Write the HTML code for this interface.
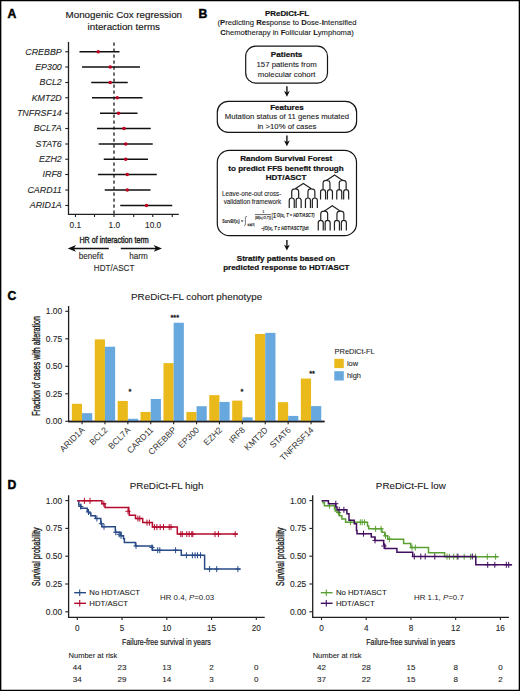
<!DOCTYPE html>
<html><head><meta charset="utf-8"><style>
html,body{margin:0;padding:0;background:#fff;width:520px;height:691px;overflow:hidden}
svg{display:block;font-family:"Liberation Sans", sans-serif}
</style></head><body>
<svg width="520" height="691" viewBox="0 0 520 691">
<path d="M0,0 H520 V691 H0 Z M1.35,1.3 V689.7 H518.7 V1.3 Z" fill="#000" fill-rule="evenodd"/>
<text x="7.5" y="18.3" font-size="12.2" text-anchor="start" font-weight="bold" font-style="normal" fill="#000" stroke="#000" stroke-width="0.45" >A</text>
<text x="123.8" y="17.6" font-size="9.8" text-anchor="middle" font-weight="normal" font-style="normal" fill="#151515" stroke="#151515" stroke-width="0.14" >Monogenic Cox regression</text>
<text x="123.8" y="29.7" font-size="9.8" text-anchor="middle" font-weight="normal" font-style="normal" fill="#151515" stroke="#151515" stroke-width="0.14" >interaction terms</text>
<path d="M68.5,42 V214.3 H178.8" fill="none" stroke="#231f20" stroke-width="1.3"/>
<line x1="65.3" y1="51.75" x2="68.5" y2="51.75" stroke="#231f20" stroke-width="1.1"/>
<text x="61.8" y="54.55" font-size="8.9" text-anchor="end" font-weight="normal" font-style="italic" fill="#262626" stroke="#262626" stroke-width="0.1" >CREBBP</text>
<line x1="65.3" y1="67" x2="68.5" y2="67" stroke="#231f20" stroke-width="1.1"/>
<text x="61.8" y="69.8" font-size="8.9" text-anchor="end" font-weight="normal" font-style="italic" fill="#262626" stroke="#262626" stroke-width="0.1" >EP300</text>
<line x1="65.3" y1="82.5" x2="68.5" y2="82.5" stroke="#231f20" stroke-width="1.1"/>
<text x="61.8" y="85.3" font-size="8.9" text-anchor="end" font-weight="normal" font-style="italic" fill="#262626" stroke="#262626" stroke-width="0.1" >BCL2</text>
<line x1="65.3" y1="97.75" x2="68.5" y2="97.75" stroke="#231f20" stroke-width="1.1"/>
<text x="61.8" y="100.55" font-size="8.9" text-anchor="end" font-weight="normal" font-style="italic" fill="#262626" stroke="#262626" stroke-width="0.1" >KMT2D</text>
<line x1="65.3" y1="113.25" x2="68.5" y2="113.25" stroke="#231f20" stroke-width="1.1"/>
<text x="61.8" y="116.05" font-size="8.9" text-anchor="end" font-weight="normal" font-style="italic" fill="#262626" stroke="#262626" stroke-width="0.1" >TNFRSF14</text>
<line x1="65.3" y1="128.5" x2="68.5" y2="128.5" stroke="#231f20" stroke-width="1.1"/>
<text x="61.8" y="131.3" font-size="8.9" text-anchor="end" font-weight="normal" font-style="italic" fill="#262626" stroke="#262626" stroke-width="0.1" >BCL7A</text>
<line x1="65.3" y1="144" x2="68.5" y2="144" stroke="#231f20" stroke-width="1.1"/>
<text x="61.8" y="146.8" font-size="8.9" text-anchor="end" font-weight="normal" font-style="italic" fill="#262626" stroke="#262626" stroke-width="0.1" >STAT6</text>
<line x1="65.3" y1="159.25" x2="68.5" y2="159.25" stroke="#231f20" stroke-width="1.1"/>
<text x="61.8" y="162.05" font-size="8.9" text-anchor="end" font-weight="normal" font-style="italic" fill="#262626" stroke="#262626" stroke-width="0.1" >EZH2</text>
<line x1="65.3" y1="174.5" x2="68.5" y2="174.5" stroke="#231f20" stroke-width="1.1"/>
<text x="61.8" y="177.3" font-size="8.9" text-anchor="end" font-weight="normal" font-style="italic" fill="#262626" stroke="#262626" stroke-width="0.1" >IRF8</text>
<line x1="65.3" y1="190" x2="68.5" y2="190" stroke="#231f20" stroke-width="1.1"/>
<text x="61.8" y="192.8" font-size="8.9" text-anchor="end" font-weight="normal" font-style="italic" fill="#262626" stroke="#262626" stroke-width="0.1" >CARD11</text>
<line x1="65.3" y1="205.5" x2="68.5" y2="205.5" stroke="#231f20" stroke-width="1.1"/>
<text x="61.8" y="208.3" font-size="8.9" text-anchor="end" font-weight="normal" font-style="italic" fill="#262626" stroke="#262626" stroke-width="0.1" >ARID1A</text>
<line x1="75.5" y1="214.3" x2="75.5" y2="217" stroke="#231f20" stroke-width="1.1"/>
<line x1="94.5" y1="214.3" x2="94.5" y2="217" stroke="#231f20" stroke-width="1.1"/>
<line x1="114" y1="214.3" x2="114" y2="217" stroke="#231f20" stroke-width="1.1"/>
<line x1="133.75" y1="214.3" x2="133.75" y2="217" stroke="#231f20" stroke-width="1.1"/>
<line x1="152.75" y1="214.3" x2="152.75" y2="217" stroke="#231f20" stroke-width="1.1"/>
<line x1="172.25" y1="214.3" x2="172.25" y2="217" stroke="#231f20" stroke-width="1.1"/>
<text x="75.3" y="228.3" font-size="8.3" text-anchor="middle" font-weight="normal" font-style="normal" fill="#262626" stroke="#262626" stroke-width="0.1" >0.1</text>
<text x="114.3" y="228.3" font-size="8.3" text-anchor="middle" font-weight="normal" font-style="normal" fill="#262626" stroke="#262626" stroke-width="0.1" >1.0</text>
<text x="153.1" y="228.3" font-size="8.3" text-anchor="middle" font-weight="normal" font-style="normal" fill="#262626" stroke="#262626" stroke-width="0.1" >10.0</text>
<line x1="114" y1="42.5" x2="114" y2="214" stroke="#111" stroke-width="1.25" stroke-dasharray="3.3,2.7"/>
<line x1="79.5" y1="51.75" x2="119.5" y2="51.75" stroke="#111" stroke-width="1.35"/>
<circle cx="98.25" cy="51.75" r="1.8" fill="#bd0020"/>
<line x1="82" y1="67" x2="140" y2="67" stroke="#111" stroke-width="1.35"/>
<circle cx="110.25" cy="67" r="1.8" fill="#bd0020"/>
<line x1="91.25" y1="82.5" x2="127.75" y2="82.5" stroke="#111" stroke-width="1.35"/>
<circle cx="110.25" cy="82.5" r="1.8" fill="#bd0020"/>
<line x1="92" y1="97.75" x2="142.5" y2="97.75" stroke="#111" stroke-width="1.35"/>
<circle cx="117.25" cy="97.75" r="1.8" fill="#bd0020"/>
<line x1="100" y1="113.25" x2="137.5" y2="113.25" stroke="#111" stroke-width="1.35"/>
<circle cx="118.5" cy="113.25" r="1.8" fill="#bd0020"/>
<line x1="97" y1="128.5" x2="150.75" y2="128.5" stroke="#111" stroke-width="1.35"/>
<circle cx="124" cy="128.5" r="1.8" fill="#bd0020"/>
<line x1="98.75" y1="144" x2="152.75" y2="144" stroke="#111" stroke-width="1.35"/>
<circle cx="125.75" cy="144" r="1.8" fill="#bd0020"/>
<line x1="103.75" y1="159.25" x2="148" y2="159.25" stroke="#111" stroke-width="1.35"/>
<circle cx="125.75" cy="159.25" r="1.8" fill="#bd0020"/>
<line x1="98" y1="174.5" x2="156.75" y2="174.5" stroke="#111" stroke-width="1.35"/>
<circle cx="127.25" cy="174.5" r="1.8" fill="#bd0020"/>
<line x1="104.75" y1="190" x2="150.5" y2="190" stroke="#111" stroke-width="1.35"/>
<circle cx="127.25" cy="190" r="1.8" fill="#bd0020"/>
<line x1="120.25" y1="205.5" x2="172.25" y2="205.5" stroke="#111" stroke-width="1.35"/>
<circle cx="146.5" cy="205.5" r="1.8" fill="#bd0020"/>
<text x="0" y="0" font-size="9.9" fill="#1a1a1a" stroke="#1a1a1a" stroke-width="0.4" font-weight="normal" transform="translate(114.1,242.6)" text-anchor="middle" textLength="69.4" lengthAdjust="spacingAndGlyphs">HR of interaction term</text>
<line x1="72" y1="248.4" x2="108.8" y2="248.4" stroke="#111" stroke-width="1.45"/>
<path d="M67.7,248.4 L76,245.1 L73.8,248.4 L76,251.7 Z" fill="#111"/>
<line x1="120.8" y1="248.4" x2="158" y2="248.4" stroke="#111" stroke-width="1.45"/>
<path d="M162,248.4 L153.7,245.1 L155.9,248.4 L153.7,251.7 Z" fill="#111"/>
<text x="91" y="259.2" font-size="8.15" text-anchor="middle" font-weight="normal" font-style="normal" fill="#262626" stroke="#262626" stroke-width="0.1" >benefit</text>
<text x="138.4" y="259.2" font-size="8.15" text-anchor="middle" font-weight="normal" font-style="normal" fill="#262626" stroke="#262626" stroke-width="0.1" >harm</text>
<text x="114.1" y="271.2" font-size="8.15" text-anchor="middle" font-weight="normal" font-style="normal" fill="#262626" stroke="#262626" stroke-width="0.1" >HDT/ASCT</text>
<text x="198.5" y="17.9" font-size="12.2" text-anchor="start" font-weight="bold" font-style="normal" fill="#000" stroke="#000" stroke-width="0.45" >B</text>
<text x="287" y="15.8" font-size="7.95" text-anchor="middle" font-weight="bold" font-style="normal" fill="#111" stroke="#111" stroke-width="0.22" >PReDiCt-FL</text>
<text x="287" y="25.4" font-size="7.65" text-anchor="middle" font-weight="normal" font-style="normal" fill="#1a1a1a" stroke="#1a1a1a" stroke-width="0.1" >(<tspan font-weight="bold">P</tspan>redicting <tspan font-weight="bold">Re</tspan>sponse to <tspan font-weight="bold">D</tspan>ose-<tspan font-weight="bold">I</tspan>ntensified</text>
<text x="287" y="35.0" font-size="7.6" text-anchor="middle" font-weight="normal" font-style="normal" fill="#1a1a1a" stroke="#1a1a1a" stroke-width="0.1" ><tspan font-weight="bold">C</tspan>hemo<tspan font-weight="bold">t</tspan>herapy in <tspan font-weight="bold">F</tspan>ollicular <tspan font-weight="bold">L</tspan>ymphoma)</text>
<rect x="245.7" y="46.2" width="81.8" height="36.9" rx="10" ry="10" fill="none" stroke="#151515" stroke-width="1.2"/>
<text x="286.6" y="57.4" font-size="8.1" text-anchor="middle" font-weight="bold" font-style="normal" fill="#111" stroke="#111" stroke-width="0.22" >Patients</text>
<text x="286.6" y="67.2" font-size="7.8" text-anchor="middle" font-weight="normal" font-style="normal" fill="#1a1a1a" stroke="#1a1a1a" stroke-width="0.1" >157 patients from</text>
<text x="286.6" y="77.2" font-size="7.8" text-anchor="middle" font-weight="normal" font-style="normal" fill="#1a1a1a" stroke="#1a1a1a" stroke-width="0.1" >molecular cohort</text>
<line x1="286.9" y1="86.2" x2="286.9" y2="92.8" stroke="#111" stroke-width="1.4"/>
<path d="M286.9,96.8 L284.0,91.0 L286.9,92.5 L289.79999999999995,91.0 Z" fill="#111"/>
<rect x="217.3" y="101.3" width="139.3" height="31.1" rx="11" ry="11" fill="none" stroke="#151515" stroke-width="1.2"/>
<text x="286.9" y="109.5" font-size="8.05" text-anchor="middle" font-weight="bold" font-style="normal" fill="#111" stroke="#111" stroke-width="0.22" >Features</text>
<text x="286.9" y="119.2" font-size="7.72" text-anchor="middle" font-weight="normal" font-style="normal" fill="#1a1a1a" stroke="#1a1a1a" stroke-width="0.1" >Mutation status of 11 genes mutated</text>
<text x="286.9" y="128.7" font-size="7.72" text-anchor="middle" font-weight="normal" font-style="normal" fill="#1a1a1a" stroke="#1a1a1a" stroke-width="0.1" >in &gt;10% of cases</text>
<line x1="286.9" y1="135.6" x2="286.9" y2="142.2" stroke="#111" stroke-width="1.4"/>
<path d="M286.9,146.2 L284.0,140.39999999999998 L286.9,141.89999999999998 L289.79999999999995,140.39999999999998 Z" fill="#111"/>
<rect x="217.3" y="150.4" width="139.2" height="85.3" rx="12" ry="12" fill="none" stroke="#151515" stroke-width="1.2"/>
<text x="286.2" y="160.8" font-size="8.0" text-anchor="middle" font-weight="bold" font-style="normal" fill="#111" stroke="#111" stroke-width="0.22" >Random Survival Forest</text>
<text x="286.0" y="170.6" font-size="8.05" text-anchor="middle" font-weight="bold" font-style="normal" fill="#111" stroke="#111" stroke-width="0.22" >to predict FFS benefit through</text>
<text x="286.0" y="179.9" font-size="8.05" text-anchor="middle" font-weight="bold" font-style="normal" fill="#111" stroke="#111" stroke-width="0.22" >HDT/ASCT</text>
<text x="251.7" y="195.7" font-size="6.27" text-anchor="middle" font-weight="normal" font-style="normal" fill="#262626" stroke="#262626" stroke-width="0.1" >Leave-one-out cross-</text>
<text x="252.4" y="203.7" font-size="6.27" text-anchor="middle" font-weight="normal" font-style="normal" fill="#262626" stroke="#262626" stroke-width="0.1" >validation framework</text>
<text x="222.2" y="222.9" font-size="5.2" font-weight="bold" font-style="normal" fill="#222" stroke="#222" stroke-width="0.08" textLength="20.9" lengthAdjust="spacingAndGlyphs">SurvBf(x<tspan font-size="3">j</tspan>) =</text>
<path d="M246.8,216.6 Q245.9,215.6 245.4,217.2 L245.4,224.6 Q245.1,226 244.2,225.2" fill="none" stroke="#222" stroke-width="0.6"/>
<text x="247.5" y="225.7" font-size="2.6" font-weight="bold" font-style="normal" fill="#222" stroke="#222" stroke-width="0.08" textLength="7.2" lengthAdjust="spacingAndGlyphs">t∈ℝ(O,R)</text>
<text x="262.6" y="213.0" font-size="3.0" font-weight="bold" font-style="normal" fill="#222" stroke="#222" stroke-width="0.08" textLength="1.6" lengthAdjust="spacingAndGlyphs">1</text>
<line x1="254.8" y1="214.6" x2="271" y2="214.6" stroke="#555" stroke-width="0.9"/>
<text x="255" y="218.6" font-size="4.0" font-weight="bold" font-style="italic" fill="#222" stroke="#222" stroke-width="0.08" textLength="16" lengthAdjust="spacingAndGlyphs">|M(x<tspan font-size="2.6">j</tspan>,O,T)|</text>
<text x="271.6" y="217.6" font-size="7" font-weight="normal" font-style="normal" fill="#222" stroke="#222" stroke-width="0.08" textLength="1.5" lengthAdjust="spacingAndGlyphs">[</text>
<text x="273.2" y="217.0" font-size="5.4" font-weight="bold" font-style="normal" fill="#222" stroke="#222" stroke-width="0.08" textLength="3.2" lengthAdjust="spacingAndGlyphs">∑</text>
<text x="276.7" y="216.9" font-size="5.0" font-weight="bold" font-style="italic" fill="#222" stroke="#222" stroke-width="0.08" textLength="38" lengthAdjust="spacingAndGlyphs">O(x<tspan font-size="3">j</tspan>, T = HDT/ASCT)</text>
<text x="260.9" y="230.3" font-size="5.0" font-weight="bold" font-style="italic" fill="#222" stroke="#222" stroke-width="0.08" textLength="47.6" lengthAdjust="spacingAndGlyphs">−∫O(x<tspan font-size="3">j</tspan>, T ≠ HDT/ASCT)]dt</text>
<path d="M326.5,180.4 L334.6,175 L342.7,180.4 M323.05,189.6 V183.2 Q323.05,180.4 326.5,180.4 Q329.95,180.4 329.95,183.2 V189.6 M320.55,199.6 V192 Q320.55,189.6 323.05,189.6 Q325.55,189.6 325.55,192 V199.6 M327.45,199.6 V192 Q327.45,189.6 329.95,189.6 Q332.45,189.6 332.45,192 V199.6 M339.25,189.6 V183.2 Q339.25,180.4 342.7,180.4 Q346.15,180.4 346.15,183.2 V189.6 M336.75,199.6 V192 Q336.75,189.6 339.25,189.6 Q341.75,189.6 341.75,192 V199.6 M343.65,199.6 V192 Q343.65,189.6 346.15,189.6 Q348.65,189.6 348.65,192 V199.6" fill="none" stroke="#222" stroke-width="1.2"/>
<path d="M295.2,188.8 L303.3,183.4 L311.4,188.8 M291.75,198.0 V191.6 Q291.75,188.8 295.2,188.8 Q298.65,188.8 298.65,191.6 V198.0 M289.25,208.0 V200.4 Q289.25,198.0 291.75,198.0 Q294.25,198.0 294.25,200.4 V208.0 M296.15,208.0 V200.4 Q296.15,198.0 298.65,198.0 Q301.15,198.0 301.15,200.4 V208.0 M307.95,198.0 V191.6 Q307.95,188.8 311.4,188.8 Q314.85,188.8 314.85,191.6 V198.0 M305.45,208.0 V200.4 Q305.45,198.0 307.95,198.0 Q310.45,198.0 310.45,200.4 V208.0 M312.35,208.0 V200.4 Q312.35,198.0 314.85,198.0 Q317.35,198.0 317.35,200.4 V208.0" fill="none" stroke="#222" stroke-width="1.2"/>
<path d="M324.2,211.2 L332.3,205.8 L340.4,211.2 M320.75,220.4 V214.0 Q320.75,211.2 324.2,211.2 Q327.65,211.2 327.65,214.0 V220.4 M318.25,230.4 V222.8 Q318.25,220.4 320.75,220.4 Q323.25,220.4 323.25,222.8 V230.4 M325.15,230.4 V222.8 Q325.15,220.4 327.65,220.4 Q330.15,220.4 330.15,222.8 V230.4 M336.95,220.4 V214.0 Q336.95,211.2 340.4,211.2 Q343.85,211.2 343.85,214.0 V220.4 M334.45,230.4 V222.8 Q334.45,220.4 336.95,220.4 Q339.45,220.4 339.45,222.8 V230.4 M341.35,230.4 V222.8 Q341.35,220.4 343.85,220.4 Q346.35,220.4 346.35,222.8 V230.4" fill="none" stroke="#222" stroke-width="1.2"/>
<line x1="286.9" y1="239.9" x2="286.9" y2="246.6" stroke="#111" stroke-width="1.4"/>
<path d="M286.9,250.6 L284.0,244.79999999999998 L286.9,246.29999999999998 L289.79999999999995,244.79999999999998 Z" fill="#111"/>
<text x="286.0" y="260.6" font-size="8.05" text-anchor="middle" font-weight="bold" font-style="normal" fill="#111" stroke="#111" stroke-width="0.22" >Stratify patients based on</text>
<text x="286.3" y="270.1" font-size="8.0" text-anchor="middle" font-weight="bold" font-style="normal" fill="#111" stroke="#111" stroke-width="0.22" >predicted response to HDT/ASCT</text>
<text x="7.5" y="300.4" font-size="12.2" text-anchor="start" font-weight="bold" font-style="normal" fill="#000" stroke="#000" stroke-width="0.45" >C</text>
<text x="196.6" y="300" font-size="9.82" text-anchor="middle" font-weight="normal" font-style="normal" fill="#1a1a1a" stroke="#1a1a1a" stroke-width="0.1" >PReDiCt-FL cohort phenotype</text>
<path d="M68.6,306 V421.5 H324.5" fill="none" stroke="#231f20" stroke-width="1.3"/>
<line x1="65.3" y1="421.3" x2="68.6" y2="421.3" stroke="#231f20" stroke-width="1.1"/>
<text x="62.2" y="424.3" font-size="8.45" text-anchor="end" font-weight="normal" font-style="normal" fill="#262626" stroke="#262626" stroke-width="0.1" >0.00</text>
<line x1="65.3" y1="393.8" x2="68.6" y2="393.8" stroke="#231f20" stroke-width="1.1"/>
<text x="62.2" y="396.8" font-size="8.45" text-anchor="end" font-weight="normal" font-style="normal" fill="#262626" stroke="#262626" stroke-width="0.1" >0.25</text>
<line x1="65.3" y1="366.3" x2="68.6" y2="366.3" stroke="#231f20" stroke-width="1.1"/>
<text x="62.2" y="369.3" font-size="8.45" text-anchor="end" font-weight="normal" font-style="normal" fill="#262626" stroke="#262626" stroke-width="0.1" >0.50</text>
<line x1="65.3" y1="338.8" x2="68.6" y2="338.8" stroke="#231f20" stroke-width="1.1"/>
<text x="62.2" y="341.8" font-size="8.45" text-anchor="end" font-weight="normal" font-style="normal" fill="#262626" stroke="#262626" stroke-width="0.1" >0.75</text>
<line x1="65.3" y1="311.3" x2="68.6" y2="311.3" stroke="#231f20" stroke-width="1.1"/>
<text x="62.2" y="314.3" font-size="8.45" text-anchor="end" font-weight="normal" font-style="normal" fill="#262626" stroke="#262626" stroke-width="0.1" >1.00</text>
<text x="0" y="0" font-size="10.4" fill="#1a1a1a" stroke="#1a1a1a" stroke-width="0.35" font-weight="normal" transform="translate(39.5,365.9) rotate(-90)" text-anchor="middle" textLength="99.7" lengthAdjust="spacingAndGlyphs">Fraction of cases with alteration</text>
<rect x="71.85" y="403.81" width="10.2" height="17.49" fill="#eaba1c"/>
<rect x="82.05" y="413.16" width="10.2" height="8.14" fill="#67a8de"/>
<line x1="82.05" y1="421.5" x2="82.05" y2="424.3" stroke="#231f20" stroke-width="1.1"/>
<text x="0" y="0" font-size="8.6" fill="#333" text-anchor="end" transform="translate(85.25,430.50) rotate(-45)">ARID1A</text>
<rect x="94.75" y="339.35" width="10.2" height="81.95" fill="#eaba1c"/>
<rect x="104.95" y="346.72" width="10.2" height="74.58" fill="#67a8de"/>
<line x1="104.95" y1="421.5" x2="104.95" y2="424.3" stroke="#231f20" stroke-width="1.1"/>
<text x="0" y="0" font-size="8.6" fill="#333" text-anchor="end" transform="translate(108.15,430.50) rotate(-45)">BCL2</text>
<rect x="117.65" y="400.95" width="10.2" height="20.35" fill="#eaba1c"/>
<rect x="127.85" y="418.77" width="10.2" height="2.53" fill="#67a8de"/>
<line x1="127.85" y1="421.5" x2="127.85" y2="424.3" stroke="#231f20" stroke-width="1.1"/>
<text x="0" y="0" font-size="8.6" fill="#333" text-anchor="end" transform="translate(131.05,430.50) rotate(-45)">BCL7A</text>
<rect x="140.55" y="411.95" width="10.2" height="9.35" fill="#eaba1c"/>
<rect x="150.75" y="398.97" width="10.2" height="22.33" fill="#67a8de"/>
<line x1="150.75" y1="421.5" x2="150.75" y2="424.3" stroke="#231f20" stroke-width="1.1"/>
<text x="0" y="0" font-size="8.6" fill="#333" text-anchor="end" transform="translate(153.95,430.50) rotate(-45)">CARD11</text>
<rect x="163.45" y="363.11" width="10.2" height="58.19" fill="#eaba1c"/>
<rect x="173.65" y="322.74" width="10.2" height="98.56" fill="#67a8de"/>
<line x1="173.65" y1="421.5" x2="173.65" y2="424.3" stroke="#231f20" stroke-width="1.1"/>
<text x="0" y="0" font-size="8.6" fill="#333" text-anchor="end" transform="translate(176.85,430.50) rotate(-45)">CREBBP</text>
<rect x="186.35" y="411.95" width="10.2" height="9.35" fill="#eaba1c"/>
<rect x="196.55" y="406.23" width="10.2" height="15.07" fill="#67a8de"/>
<line x1="196.55" y1="421.5" x2="196.55" y2="424.3" stroke="#231f20" stroke-width="1.1"/>
<text x="0" y="0" font-size="8.6" fill="#333" text-anchor="end" transform="translate(199.75,430.50) rotate(-45)">EP300</text>
<rect x="209.25" y="395.12" width="10.2" height="26.18" fill="#eaba1c"/>
<rect x="219.45" y="401.94" width="10.2" height="19.36" fill="#67a8de"/>
<line x1="219.45" y1="421.5" x2="219.45" y2="424.3" stroke="#231f20" stroke-width="1.1"/>
<text x="0" y="0" font-size="8.6" fill="#333" text-anchor="end" transform="translate(222.65,430.50) rotate(-45)">EZH2</text>
<rect x="232.15" y="400.62" width="10.2" height="20.68" fill="#eaba1c"/>
<rect x="242.35" y="417.34" width="10.2" height="3.96" fill="#67a8de"/>
<line x1="242.35" y1="421.5" x2="242.35" y2="424.3" stroke="#231f20" stroke-width="1.1"/>
<text x="0" y="0" font-size="8.6" fill="#333" text-anchor="end" transform="translate(245.55,430.50) rotate(-45)">IRF8</text>
<rect x="255.05" y="333.96" width="10.2" height="87.34" fill="#eaba1c"/>
<rect x="265.25" y="332.86" width="10.2" height="88.44" fill="#67a8de"/>
<line x1="265.25" y1="421.5" x2="265.25" y2="424.3" stroke="#231f20" stroke-width="1.1"/>
<text x="0" y="0" font-size="8.6" fill="#333" text-anchor="end" transform="translate(268.45,430.50) rotate(-45)">KMT2D</text>
<rect x="277.95" y="402.16" width="10.2" height="19.14" fill="#eaba1c"/>
<rect x="288.15" y="415.91" width="10.2" height="5.39" fill="#67a8de"/>
<line x1="288.15" y1="421.5" x2="288.15" y2="424.3" stroke="#231f20" stroke-width="1.1"/>
<text x="0" y="0" font-size="8.6" fill="#333" text-anchor="end" transform="translate(291.35,430.50) rotate(-45)">STAT6</text>
<rect x="300.85" y="378.51" width="10.2" height="42.79" fill="#eaba1c"/>
<rect x="311.05" y="406.12" width="10.2" height="15.18" fill="#67a8de"/>
<line x1="311.05" y1="421.5" x2="311.05" y2="424.3" stroke="#231f20" stroke-width="1.1"/>
<text x="0" y="0" font-size="8.6" fill="#333" text-anchor="end" transform="translate(314.25,430.50) rotate(-45)">TNFRSF14</text>
<path d="M68,421.5 H324.5" fill="none" stroke="#231f20" stroke-width="1.3"/>
<text x="130" y="393.8" font-size="7.4" text-anchor="middle" font-weight="normal" font-style="normal" fill="#111" stroke="#111" stroke-width="0.35" >*</text>
<text x="241.9" y="393.8" font-size="7.4" text-anchor="middle" font-weight="normal" font-style="normal" fill="#111" stroke="#111" stroke-width="0.35" >*</text>
<text x="174.8" y="320.3" font-size="7.4" text-anchor="middle" font-weight="normal" font-style="normal" fill="#111" stroke="#111" stroke-width="0.35" >***</text>
<text x="312.1" y="376.2" font-size="7.4" text-anchor="middle" font-weight="normal" font-style="normal" fill="#111" stroke="#111" stroke-width="0.35" >**</text>
<text x="334.6" y="354.2" font-size="7.45" text-anchor="start" font-weight="normal" font-style="normal" fill="#262626" stroke="#262626" stroke-width="0.1" >PReDiCt-FL</text>
<rect x="334.3" y="358.8" width="9.5" height="9.3" fill="#eaba1c"/>
<rect x="334.3" y="371.2" width="9.5" height="9.3" fill="#67a8de"/>
<text x="346.9" y="365.8" font-size="7.45" text-anchor="start" font-weight="normal" font-style="normal" fill="#262626" stroke="#262626" stroke-width="0.1" >low</text>
<text x="346.9" y="377.8" font-size="7.45" text-anchor="start" font-weight="normal" font-style="normal" fill="#262626" stroke="#262626" stroke-width="0.1" >high</text>
<text x="7.5" y="489.4" font-size="12.2" text-anchor="start" font-weight="bold" font-style="normal" fill="#000" stroke="#000" stroke-width="0.45" >D</text>
<path d="M68.6,495.2 V617.3 H264.7" fill="none" stroke="#231f20" stroke-width="1.3"/>
<line x1="65.3" y1="611.8" x2="68.6" y2="611.8" stroke="#231f20" stroke-width="1.1"/>
<text x="62.199999999999996" y="614.8" font-size="8.45" text-anchor="end" font-weight="normal" font-style="normal" fill="#262626" stroke="#262626" stroke-width="0.1" >0.00</text>
<line x1="65.3" y1="584.0" x2="68.6" y2="584.0" stroke="#231f20" stroke-width="1.1"/>
<text x="62.199999999999996" y="587.0" font-size="8.45" text-anchor="end" font-weight="normal" font-style="normal" fill="#262626" stroke="#262626" stroke-width="0.1" >0.25</text>
<line x1="65.3" y1="556.2" x2="68.6" y2="556.2" stroke="#231f20" stroke-width="1.1"/>
<text x="62.199999999999996" y="559.2" font-size="8.45" text-anchor="end" font-weight="normal" font-style="normal" fill="#262626" stroke="#262626" stroke-width="0.1" >0.50</text>
<line x1="65.3" y1="528.4" x2="68.6" y2="528.4" stroke="#231f20" stroke-width="1.1"/>
<text x="62.199999999999996" y="531.4" font-size="8.45" text-anchor="end" font-weight="normal" font-style="normal" fill="#262626" stroke="#262626" stroke-width="0.1" >0.75</text>
<line x1="65.3" y1="500.6" x2="68.6" y2="500.6" stroke="#231f20" stroke-width="1.1"/>
<text x="62.199999999999996" y="503.6" font-size="8.45" text-anchor="end" font-weight="normal" font-style="normal" fill="#262626" stroke="#262626" stroke-width="0.1" >1.00</text>
<line x1="77.3" y1="617.3" x2="77.3" y2="620" stroke="#231f20" stroke-width="1.1"/>
<text x="77.3" y="631" font-size="8.2" text-anchor="middle" font-weight="normal" font-style="normal" fill="#262626" stroke="#262626" stroke-width="0.1" >0</text>
<line x1="122.05" y1="617.3" x2="122.05" y2="620" stroke="#231f20" stroke-width="1.1"/>
<text x="122.05" y="631" font-size="8.2" text-anchor="middle" font-weight="normal" font-style="normal" fill="#262626" stroke="#262626" stroke-width="0.1" >5</text>
<line x1="166.8" y1="617.3" x2="166.8" y2="620" stroke="#231f20" stroke-width="1.1"/>
<text x="166.8" y="631" font-size="8.2" text-anchor="middle" font-weight="normal" font-style="normal" fill="#262626" stroke="#262626" stroke-width="0.1" >10</text>
<line x1="211.55" y1="617.3" x2="211.55" y2="620" stroke="#231f20" stroke-width="1.1"/>
<text x="211.55" y="631" font-size="8.2" text-anchor="middle" font-weight="normal" font-style="normal" fill="#262626" stroke="#262626" stroke-width="0.1" >15</text>
<line x1="256.3" y1="617.3" x2="256.3" y2="620" stroke="#231f20" stroke-width="1.1"/>
<text x="256.3" y="631" font-size="8.2" text-anchor="middle" font-weight="normal" font-style="normal" fill="#262626" stroke="#262626" stroke-width="0.1" >20</text>
<text x="0" y="0" font-size="10.2" fill="#1a1a1a" stroke="#1a1a1a" stroke-width="0.35" font-weight="normal" transform="translate(39.99999999999999,556.8) rotate(-90)" text-anchor="middle" textLength="58.4" lengthAdjust="spacingAndGlyphs">Survival probability</text>
<text x="166.64999999999998" y="489.4" font-size="9.8" text-anchor="middle" font-weight="normal" font-style="normal" fill="#1a1a1a" stroke="#1a1a1a" stroke-width="0.1" >PReDiCt-FL high</text>
<text x="0" y="0" font-size="9.5" fill="#1a1a1a" stroke="#1a1a1a" stroke-width="0.22" font-weight="normal" transform="translate(166.45,645.1)" text-anchor="middle" textLength="88.8" lengthAdjust="spacingAndGlyphs">Failure-free survival in years</text>
<line x1="74.2" y1="592.7" x2="86.0" y2="592.7" stroke="#284b87" stroke-width="1.4"/>
<line x1="79.7" y1="589.4000000000001" x2="79.7" y2="596.0" stroke="#284b87" stroke-width="1.1"/>
<text x="89.3" y="595.3000000000001" font-size="7.75" text-anchor="start" font-weight="normal" font-style="normal" fill="#1a1a1a" stroke="#1a1a1a" stroke-width="0.1" >No HDT/ASCT</text>
<line x1="74.2" y1="603.3000000000001" x2="86.0" y2="603.3000000000001" stroke="#b40a2d" stroke-width="1.4"/>
<line x1="79.7" y1="600.0000000000001" x2="79.7" y2="606.6" stroke="#b40a2d" stroke-width="1.1"/>
<text x="89.3" y="605.9000000000001" font-size="7.75" text-anchor="start" font-weight="normal" font-style="normal" fill="#1a1a1a" stroke="#1a1a1a" stroke-width="0.1" >HDT/ASCT</text>
<text x="160" y="600" font-size="7.9" fill="#222">HR 0.4, <tspan font-style="italic">P</tspan>=0.03</text>
<text x="68.6" y="657.7" font-size="7.5" text-anchor="start" font-weight="normal" font-style="normal" fill="#262626" stroke="#262626" stroke-width="0.1" >Number at risk</text>
<text x="77.3" y="669.6" font-size="8.0" text-anchor="middle" font-weight="normal" font-style="normal" fill="#262626" stroke="#262626" stroke-width="0.1" >44</text>
<text x="77.3" y="681.6" font-size="8.0" text-anchor="middle" font-weight="normal" font-style="normal" fill="#262626" stroke="#262626" stroke-width="0.1" >34</text>
<text x="122.05" y="669.6" font-size="8.0" text-anchor="middle" font-weight="normal" font-style="normal" fill="#262626" stroke="#262626" stroke-width="0.1" >23</text>
<text x="122.05" y="681.6" font-size="8.0" text-anchor="middle" font-weight="normal" font-style="normal" fill="#262626" stroke="#262626" stroke-width="0.1" >29</text>
<text x="166.8" y="669.6" font-size="8.0" text-anchor="middle" font-weight="normal" font-style="normal" fill="#262626" stroke="#262626" stroke-width="0.1" >13</text>
<text x="166.8" y="681.6" font-size="8.0" text-anchor="middle" font-weight="normal" font-style="normal" fill="#262626" stroke="#262626" stroke-width="0.1" >14</text>
<text x="211.55" y="669.6" font-size="8.0" text-anchor="middle" font-weight="normal" font-style="normal" fill="#262626" stroke="#262626" stroke-width="0.1" >2</text>
<text x="211.55" y="681.6" font-size="8.0" text-anchor="middle" font-weight="normal" font-style="normal" fill="#262626" stroke="#262626" stroke-width="0.1" >3</text>
<text x="256.3" y="669.6" font-size="8.0" text-anchor="middle" font-weight="normal" font-style="normal" fill="#262626" stroke="#262626" stroke-width="0.1" >0</text>
<text x="256.3" y="681.6" font-size="8.0" text-anchor="middle" font-weight="normal" font-style="normal" fill="#262626" stroke="#262626" stroke-width="0.1" >0</text>
<path d="M312.7,495.2 V617.3 H508.9" fill="none" stroke="#231f20" stroke-width="1.3"/>
<line x1="309.4" y1="611.8" x2="312.7" y2="611.8" stroke="#231f20" stroke-width="1.1"/>
<text x="306.3" y="614.8" font-size="8.45" text-anchor="end" font-weight="normal" font-style="normal" fill="#262626" stroke="#262626" stroke-width="0.1" >0.00</text>
<line x1="309.4" y1="584.0" x2="312.7" y2="584.0" stroke="#231f20" stroke-width="1.1"/>
<text x="306.3" y="587.0" font-size="8.45" text-anchor="end" font-weight="normal" font-style="normal" fill="#262626" stroke="#262626" stroke-width="0.1" >0.25</text>
<line x1="309.4" y1="556.2" x2="312.7" y2="556.2" stroke="#231f20" stroke-width="1.1"/>
<text x="306.3" y="559.2" font-size="8.45" text-anchor="end" font-weight="normal" font-style="normal" fill="#262626" stroke="#262626" stroke-width="0.1" >0.50</text>
<line x1="309.4" y1="528.4" x2="312.7" y2="528.4" stroke="#231f20" stroke-width="1.1"/>
<text x="306.3" y="531.4" font-size="8.45" text-anchor="end" font-weight="normal" font-style="normal" fill="#262626" stroke="#262626" stroke-width="0.1" >0.75</text>
<line x1="309.4" y1="500.6" x2="312.7" y2="500.6" stroke="#231f20" stroke-width="1.1"/>
<text x="306.3" y="503.6" font-size="8.45" text-anchor="end" font-weight="normal" font-style="normal" fill="#262626" stroke="#262626" stroke-width="0.1" >1.00</text>
<line x1="321.5" y1="617.3" x2="321.5" y2="620" stroke="#231f20" stroke-width="1.1"/>
<text x="321.5" y="631" font-size="8.2" text-anchor="middle" font-weight="normal" font-style="normal" fill="#262626" stroke="#262626" stroke-width="0.1" >0</text>
<line x1="366.22" y1="617.3" x2="366.22" y2="620" stroke="#231f20" stroke-width="1.1"/>
<text x="366.22" y="631" font-size="8.2" text-anchor="middle" font-weight="normal" font-style="normal" fill="#262626" stroke="#262626" stroke-width="0.1" >4</text>
<line x1="410.94" y1="617.3" x2="410.94" y2="620" stroke="#231f20" stroke-width="1.1"/>
<text x="410.94" y="631" font-size="8.2" text-anchor="middle" font-weight="normal" font-style="normal" fill="#262626" stroke="#262626" stroke-width="0.1" >8</text>
<line x1="455.66" y1="617.3" x2="455.66" y2="620" stroke="#231f20" stroke-width="1.1"/>
<text x="455.66" y="631" font-size="8.2" text-anchor="middle" font-weight="normal" font-style="normal" fill="#262626" stroke="#262626" stroke-width="0.1" >12</text>
<line x1="500.38" y1="617.3" x2="500.38" y2="620" stroke="#231f20" stroke-width="1.1"/>
<text x="500.38" y="631" font-size="8.2" text-anchor="middle" font-weight="normal" font-style="normal" fill="#262626" stroke="#262626" stroke-width="0.1" >16</text>
<text x="0" y="0" font-size="10.2" fill="#1a1a1a" stroke="#1a1a1a" stroke-width="0.35" font-weight="normal" transform="translate(284.09999999999997,556.8) rotate(-90)" text-anchor="middle" textLength="58.4" lengthAdjust="spacingAndGlyphs">Survival probability</text>
<text x="410.79999999999995" y="489.4" font-size="9.8" text-anchor="middle" font-weight="normal" font-style="normal" fill="#1a1a1a" stroke="#1a1a1a" stroke-width="0.1" >PReDiCt-FL low</text>
<text x="0" y="0" font-size="9.5" fill="#1a1a1a" stroke="#1a1a1a" stroke-width="0.22" font-weight="normal" transform="translate(410.6,645.1)" text-anchor="middle" textLength="88.8" lengthAdjust="spacingAndGlyphs">Failure-free survival in years</text>
<line x1="320.8" y1="592.7" x2="332.6" y2="592.7" stroke="#5aa032" stroke-width="1.4"/>
<line x1="326.3" y1="589.4000000000001" x2="326.3" y2="596.0" stroke="#5aa032" stroke-width="1.1"/>
<text x="335.90000000000003" y="595.3000000000001" font-size="7.75" text-anchor="start" font-weight="normal" font-style="normal" fill="#1a1a1a" stroke="#1a1a1a" stroke-width="0.1" >No HDT/ASCT</text>
<line x1="320.8" y1="603.3000000000001" x2="332.6" y2="603.3000000000001" stroke="#420f60" stroke-width="1.4"/>
<line x1="326.3" y1="600.0000000000001" x2="326.3" y2="606.6" stroke="#420f60" stroke-width="1.1"/>
<text x="335.90000000000003" y="605.9000000000001" font-size="7.75" text-anchor="start" font-weight="normal" font-style="normal" fill="#1a1a1a" stroke="#1a1a1a" stroke-width="0.1" >HDT/ASCT</text>
<text x="414" y="600" font-size="7.9" fill="#222">HR 1.1, <tspan font-style="italic">P</tspan>=0.7</text>
<text x="312.7" y="657.7" font-size="7.5" text-anchor="start" font-weight="normal" font-style="normal" fill="#262626" stroke="#262626" stroke-width="0.1" >Number at risk</text>
<text x="321.5" y="669.6" font-size="8.0" text-anchor="middle" font-weight="normal" font-style="normal" fill="#262626" stroke="#262626" stroke-width="0.1" >42</text>
<text x="321.5" y="681.6" font-size="8.0" text-anchor="middle" font-weight="normal" font-style="normal" fill="#262626" stroke="#262626" stroke-width="0.1" >37</text>
<text x="366.22" y="669.6" font-size="8.0" text-anchor="middle" font-weight="normal" font-style="normal" fill="#262626" stroke="#262626" stroke-width="0.1" >28</text>
<text x="366.22" y="681.6" font-size="8.0" text-anchor="middle" font-weight="normal" font-style="normal" fill="#262626" stroke="#262626" stroke-width="0.1" >22</text>
<text x="410.94" y="669.6" font-size="8.0" text-anchor="middle" font-weight="normal" font-style="normal" fill="#262626" stroke="#262626" stroke-width="0.1" >15</text>
<text x="410.94" y="681.6" font-size="8.0" text-anchor="middle" font-weight="normal" font-style="normal" fill="#262626" stroke="#262626" stroke-width="0.1" >15</text>
<text x="455.66" y="669.6" font-size="8.0" text-anchor="middle" font-weight="normal" font-style="normal" fill="#262626" stroke="#262626" stroke-width="0.1" >8</text>
<text x="455.66" y="681.6" font-size="8.0" text-anchor="middle" font-weight="normal" font-style="normal" fill="#262626" stroke="#262626" stroke-width="0.1" >8</text>
<text x="500.38" y="669.6" font-size="8.0" text-anchor="middle" font-weight="normal" font-style="normal" fill="#262626" stroke="#262626" stroke-width="0.1" >0</text>
<text x="500.38" y="681.6" font-size="8.0" text-anchor="middle" font-weight="normal" font-style="normal" fill="#262626" stroke="#262626" stroke-width="0.1" >2</text>
<path d="M77.3,500.8 H78.8 V505 H80.8 V508.3 H87.3 V511.2 H88.5 V513 H90.8 V515.8 H95.4 V518.5 H100.8 V523.7 H101.9 V526.8 H115.3 V532.3 H121 V535.8 H123.5 V538.8 H124.4 V542.5 H135.5 V545.9 H152.5 V550.2 H181.3 V555.3 H204.6 V569.1 H240.6" fill="none" stroke="#284b87" stroke-width="1.5" stroke-linejoin="miter"/>
<path d="M80.8,503.5 V509.5 M78.2,506.5 H83.39999999999999 M88.5,509 V515 M85.9,512 H91.1 M96.9,515.5 V521.5 M94.30000000000001,518.5 H99.5 M101.5,520.7 V526.7 M98.9,523.7 H104.1 M104,523.8 V529.8 M101.4,526.8 H106.6 M115.8,529.3 V535.3 M113.2,532.3 H118.39999999999999 M119.2,531.3 V537.3 M116.60000000000001,534.3 H121.8 M121,532.8 V538.8 M118.4,535.8 H123.6 M136,542.9 V548.9 M133.4,545.9 H138.6 M152,544.5 V550.5 M149.4,547.5 H154.6 M157.7,547.2 V553.2 M155.1,550.2 H160.29999999999998 M159.8,547.2 V553.2 M157.20000000000002,550.2 H162.4 M175.6,547.2 V553.2 M173.0,550.2 H178.2 M186.4,552.3 V558.3 M183.8,555.3 H189.0 M192.4,552.3 V558.3 M189.8,555.3 H195.0 M195.1,552.3 V558.3 M192.5,555.3 H197.7 M197.5,552.3 V558.3 M194.9,555.3 H200.1 M200.5,552.3 V558.3 M197.9,555.3 H203.1 M209.6,566.1 V572.1 M207.0,569.1 H212.2 M216.7,566.1 V572.1 M214.1,569.1 H219.29999999999998 M237.9,566.1 V572.1 M235.3,569.1 H240.5 " fill="none" stroke="#284b87" stroke-width="1.0"/>
<path d="M77.3,500.8 H101.9 V503.8 H105 V507.6 H128.8 V511.3 H129.3 V515.2 H135.5 V518.6 H142.7 V522.6 H152.4 V527.1 H177.3 V534.1 H237.9" fill="none" stroke="#b40a2d" stroke-width="1.5" stroke-linejoin="miter"/>
<path d="M84.4,497.8 V503.8 M81.80000000000001,500.8 H87.0 M90,497.8 V503.8 M87.4,500.8 H92.6 M103.8,500.8 V506.8 M101.2,503.8 H106.39999999999999 M128,508.3 V514.3 M125.4,511.3 H130.6 M137.9,515.6 V521.6 M135.3,518.6 H140.5 M139.8,515.6 V521.6 M137.20000000000002,518.6 H142.4 M147,519.6 V525.6 M144.4,522.6 H149.6 M149.4,519.6 V525.6 M146.8,522.6 H152.0 M154.4,524.1 V530.1 M151.8,527.1 H157.0 M156.9,524.1 V530.1 M154.3,527.1 H159.5 M160.2,524.1 V530.1 M157.6,527.1 H162.79999999999998 M163.5,524.1 V530.1 M160.9,527.1 H166.1 M169.2,524.1 V530.1 M166.6,527.1 H171.79999999999998 M171,524.1 V530.1 M168.4,527.1 H173.6 M180.8,531.1 V537.1 M178.20000000000002,534.1 H183.4 M182.3,531.1 V537.1 M179.70000000000002,534.1 H184.9 M186.8,531.1 V537.1 M184.20000000000002,534.1 H189.4 M189.2,531.1 V537.1 M186.6,534.1 H191.79999999999998 M191.8,531.1 V537.1 M189.20000000000002,534.1 H194.4 M192.8,531.1 V537.1 M190.20000000000002,534.1 H195.4 M215,531.1 V537.1 M212.4,534.1 H217.6 M218.4,531.1 V537.1 M215.8,534.1 H221.0 M235.2,531.1 V537.1 M232.6,534.1 H237.79999999999998 " fill="none" stroke="#b40a2d" stroke-width="1.0"/>
<path d="M321.7,500.7 H323 V502.7 H324.4 V505.7 H334.5 V508.8 H335.2 V511.1 H338.2 V513.2 H339.5 V515.8 H341.9 V518.9 H345.6 V522.3 H367.5 V526 H368.7 V528.8 H381.9 V532.3 H384.8 V535.8 H387.7 V539.2 H403.6 V543.6 H410.8 V547.6 H428.5 V552.8 H444.6 V556.7 H498.6" fill="none" stroke="#5aa032" stroke-width="1.5" stroke-linejoin="miter"/>
<path d="M329.4,502.7 V508.7 M326.79999999999995,505.7 H332.0 M338.5,509.5 V515.5 M335.9,512.5 H341.1 M350.4,519.3 V525.3 M347.79999999999995,522.3 H353.0 M360.3,519.3 V525.3 M357.7,522.3 H362.90000000000003 M362.2,519.3 V525.3 M359.59999999999997,522.3 H364.8 M364.6,519.3 V525.3 M362.0,522.3 H367.20000000000005 M375.6,525.8 V531.8 M373.0,528.8 H378.20000000000005 M381.1,525.8 V531.8 M378.5,528.8 H383.70000000000005 M385.5,532.8 V538.8 M382.9,535.8 H388.1 M389.4,536.2 V542.2 M386.79999999999995,539.2 H392.0 M412,544.6 V550.6 M409.4,547.6 H414.6 M415.3,544.6 V550.6 M412.7,547.6 H417.90000000000003 M447,553.7 V559.7 M444.4,556.7 H449.6 M449.4,553.7 V559.7 M446.79999999999995,556.7 H452.0 M453.7,553.7 V559.7 M451.09999999999997,556.7 H456.3 M457.1,553.7 V559.7 M454.5,556.7 H459.70000000000005 M464.2,553.7 V559.7 M461.59999999999997,556.7 H466.8 M470.6,553.7 V559.7 M468.0,556.7 H473.20000000000005 M475.5,553.7 V559.7 M472.9,556.7 H478.1 M487.3,553.7 V559.7 M484.7,556.7 H489.90000000000003 M495.6,553.7 V559.7 M493.0,556.7 H498.20000000000005 " fill="none" stroke="#5aa032" stroke-width="1.0"/>
<path d="M321.7,500.7 H328.4 V503.7 H335.8 V507.1 H337 V509.8 H346.9 V513.8 H349 V520.2 H354.3 V523.8 H356.5 V530.6 H357 V533.7 H371.3 V536.9 H375 V540.4 H383.7 V544.4 H384.8 V548.5 H396.9 V552.2 H412.7 V556.5 H475.8 V564.8 H512.1" fill="none" stroke="#420f60" stroke-width="1.5" stroke-linejoin="miter"/>
<path d="M335.8,500.7 V506.7 M333.2,503.7 H338.40000000000003 M339.2,506.8 V512.8 M336.59999999999997,509.8 H341.8 M343.9,506.8 V512.8 M341.29999999999995,509.8 H346.5 M363.5,530.7 V536.7 M360.9,533.7 H366.1 M375,537.4 V543.4 M372.4,540.4 H377.6 M384,543 V549 M381.4,546 H386.6 M414.3,553.5 V559.5 M411.7,556.5 H416.90000000000003 M420.8,553.5 V559.5 M418.2,556.5 H423.40000000000003 M425.2,553.5 V559.5 M422.59999999999997,556.5 H427.8 M434.8,553.5 V559.5 M432.2,556.5 H437.40000000000003 M457.9,553.5 V559.5 M455.29999999999995,556.5 H460.5 M472.3,553.5 V559.5 M469.7,556.5 H474.90000000000003 M487.7,561.8 V567.8 M485.09999999999997,564.8 H490.3 M494.8,561.8 V567.8 M492.2,564.8 H497.40000000000003 M506.3,561.8 V567.8 M503.7,564.8 H508.90000000000003 M508.7,561.8 V567.8 M506.09999999999997,564.8 H511.3 " fill="none" stroke="#420f60" stroke-width="1.0"/>
</svg>
</body></html>
